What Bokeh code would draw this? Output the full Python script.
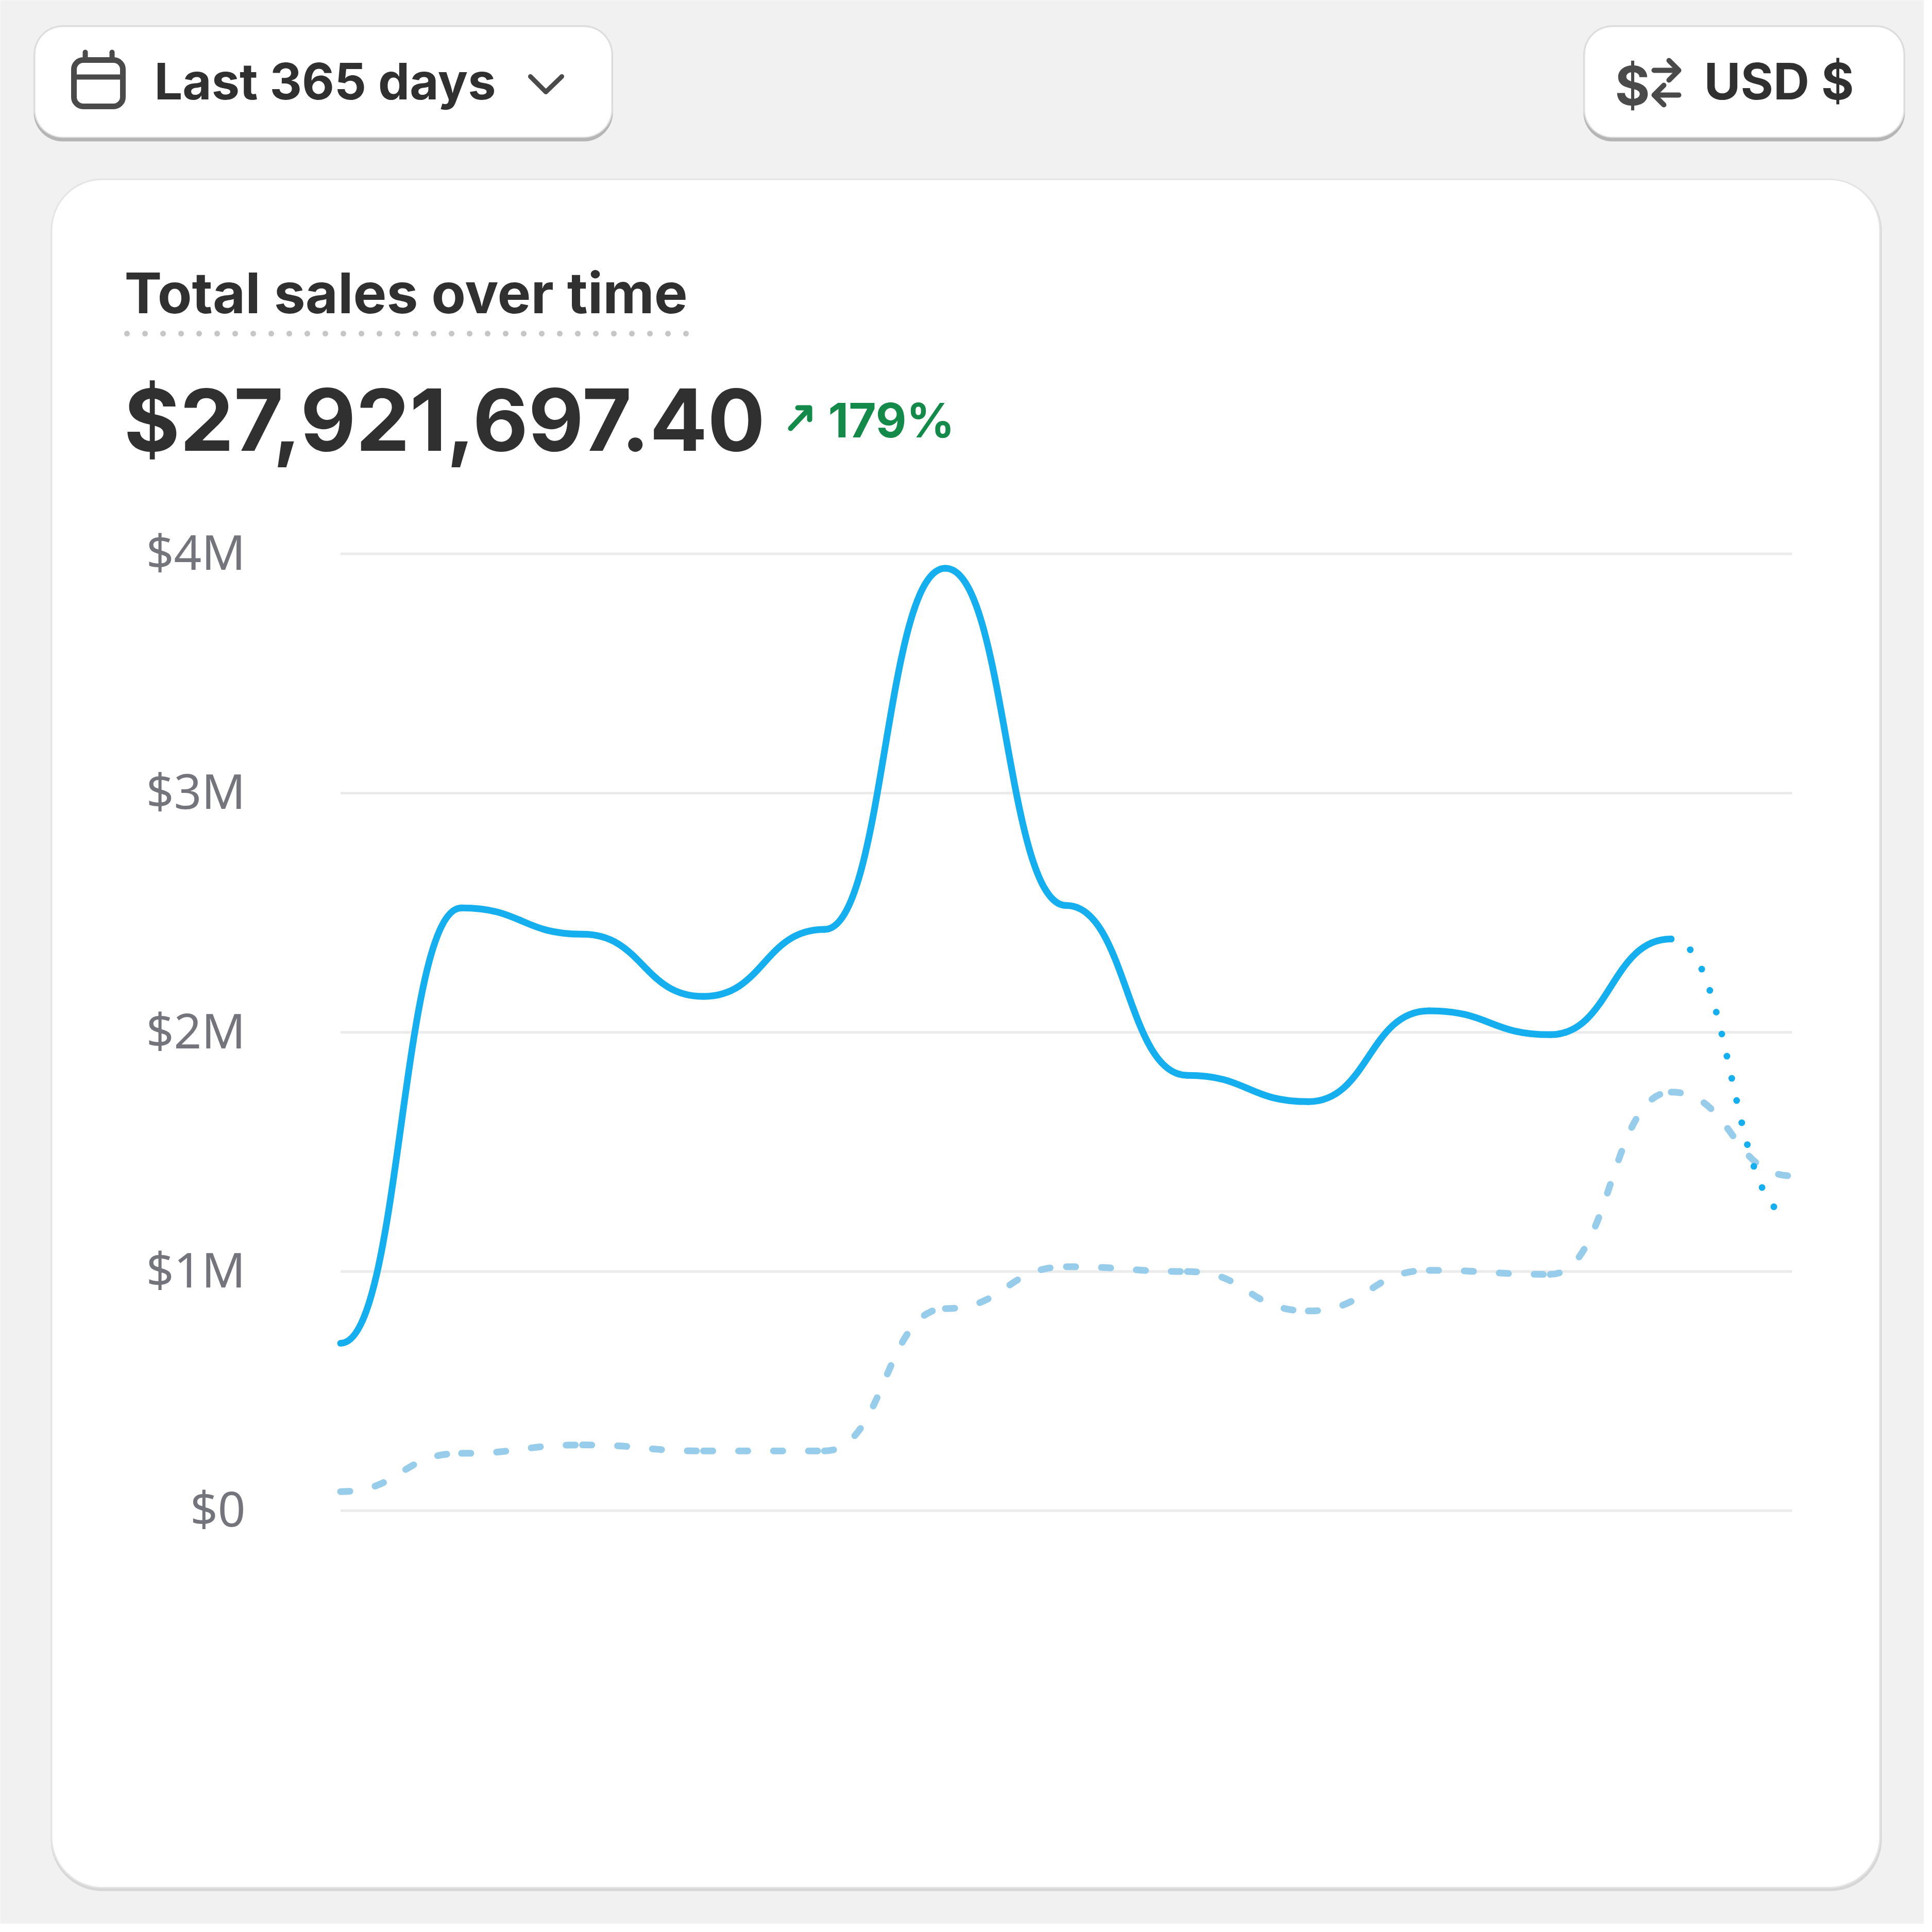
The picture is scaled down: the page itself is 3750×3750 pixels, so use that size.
import numpy as np

from bokeh.core.properties import value
from bokeh.embed import file_html
from bokeh.models import ColumnDataSource, Range1d
from bokeh.plotting import figure
from bokeh.resources import INLINE

# monthly buckets of the last 365 days (values in dollars)
bucket = list(range(13))
current_sales = [700000, 2520000, 2410000, 2150000, 2430000, 3940000, 2530000,
                 1820000, 1710000, 2090000, 1990000, 2390000, 1230000]
previous_sales = [80000, 240000, 275000, 250000, 250000, 845000, 1020000,
                  1000000, 835000, 1005000, 988000, 1750000, 1400000]
tick_values = [0, 1000000, 2000000, 3000000, 4000000]
tick_labels = ["$0", "$1M", "$2M", "$3M", "$4M"]

title_text = "Total sales over time"
total_text = "$27,921,697.40"
change_text = "179%"
period_text = "Last 365 days"
currency_text = "USD $"

W = H = 3734
FONT = "Inter"
DARK = "#303030"
ICON = "#4a4a4a"
GREEN = "#138a4a"
BLUE = "#15aeef"
LIGHT_BLUE = "#97cdea"
RISE = 0.3  # svg text sits ~0.3em low, lift the anchor by that much

p = figure(width=W, height=H, output_backend="svg", toolbar_location=None, tools="",
           x_range=Range1d(0, W), y_range=Range1d(H, 0),
           x_axis_type=None, y_axis_type=None, min_border=0,
           background_fill_color="#f1f1f1", border_fill_color="#f1f1f1",
           outline_line_color=None)
p.grid.visible = False

# chart area in screen pixels: bucket 0..12 -> x px, $0..$4M -> y px
px_left, px_right = 660.5, 3478.0
px_zero, px_top = 2931.8, 1074.6
kx = (bucket[-1] - bucket[0]) / (px_right - px_left)
p.extra_x_ranges = {"t": Range1d(bucket[0] - px_left * kx, bucket[0] + (W - px_left) * kx)}
ky = tick_values[-1] / (px_zero - px_top)
p.extra_y_ranges = {"sales": Range1d(-(H - px_zero) * ky, px_zero * ky)}


def rounded(l, r, t, b, color, radius):
    p.quad(left=[l], right=[r], top=[t], bottom=[b], fill_color=color,
           line_color=None, border_radius=radius)


def label(x, baseline, text, size, color=DARK):
    p.text(x=[x], y=[int(round(baseline - RISE * size))], text=[text],
           text_font=value(FONT), text_font_style="bold", text_font_size=f"{size}px",
           text_color=color, text_baseline="alphabetic")


# card
rounded(98, 3652, 348, 3670, "#d6d6d6", 100)
rounded(98, 3650, 346, 3665, "#e4e4e4", 100)
rounded(101, 3647, 349, 3662, "white", 97)

# buttons
for l, r in [(65, 1189), (3073, 3697)]:
    rounded(l, r, 49, 274, "#b5b5b5", 56)
    rounded(l, r, 49, 267, "#dedede", 56)
    rounded(l + 3, r - 3, 52, 265, "white", 53)

# grid lines and y labels
n = len(tick_values)
p.segment(x0=[bucket[0]] * n, x1=[bucket[-1]] * n, y0=tick_values, y1=tick_values,
          line_color="#ebebeb", line_width=5, x_range_name="t", y_range_name="sales")
p.text(x=[476] * n, y=tick_values, text=tick_labels, text_font=value("Noto Sans"),
       text_font_size="94px", text_color="#74747c", text_align="right",
       text_baseline="alphabetic", y_offset=-5, y_range_name="sales")


def bump(values, start, stop):
    # cubic pieces with flat tangents at every bucket (d3 curveBumpX)
    x = np.array(bucket, dtype=float)
    y = np.array(values, dtype=float)
    i = np.arange(start, stop)
    mid = (x[i] + x[i + 1]) / 2
    return ColumnDataSource(dict(x0=x[i], y0=y[i], x1=x[i + 1], y1=y[i + 1],
                                 cx0=mid, cy0=y[i], cx1=mid, cy1=y[i + 1]))


last = len(bucket) - 1
curve = dict(x0="x0", y0="y0", x1="x1", y1="y1", cx0="cx0", cy0="cy0", cx1="cx1",
             cy1="cy1", line_width=13, line_cap="round", x_range_name="t",
             y_range_name="sales")
p.bezier(source=bump(previous_sales, 0, last), line_color=LIGHT_BLUE,
         line_dash="18 50", **curve)
p.bezier(source=bump(current_sales, 0, last - 1), line_color=BLUE, **curve)
p.bezier(source=bump(current_sales, last - 1, last), line_color=BLUE,
         line_dash="0 44", **curve)

# header
label(241, 600, title_text, 109)
p.line(x=[246, 1333], y=[647, 647], line_color="#c6c6c6", line_width=11,
       line_dash="0 35", line_cap="round")
label(240, 864, total_text, 166)
p.multi_line(xs=[[1534, 1569], [1548, 1571, 1571]], ys=[[831, 794], [791, 791, 814]],
             line_color=GREEN, line_width=10, line_cap="round", line_join="round")
label(1607, 843, change_text, 92, color=GREEN)

# calendar icon
p.quad(left=[143], right=[238], top=[116], bottom=[206], fill_color=None,
       line_color=ICON, line_width=11, border_radius=18)
p.segment(x0=[143], y0=[149], x1=[238], y1=[149], line_color=ICON, line_width=10)
p.segment(x0=[165, 217], y0=[101, 101], x1=[165, 217], y1=[113, 113],
          line_color=ICON, line_width=10, line_cap="round")
# chevron
p.line(x=[1029, 1059, 1090], y=[148, 178, 148], line_color=ICON,
       line_width=9, line_cap="round", line_join="round")
label(299, 186, period_text, 97)

# currency switch
label(3307, 186, currency_text, 97)
p.multi_line(xs=[[3210, 3257], [3239, 3258, 3239], [3211, 3258], [3229, 3210, 3229]],
             ys=[[136, 136], [117, 136, 155], [184, 184], [165, 184, 203]],
             line_color=ICON, line_width=10, line_cap="round", line_join="round")
p.text(x=[3134], y=[165], text=["$"], text_font=value(FONT), text_font_style="bold",
       text_font_size="104px", text_color=ICON, text_baseline="alphabetic")

open("out.html", "w").write(file_html(p, INLINE))
